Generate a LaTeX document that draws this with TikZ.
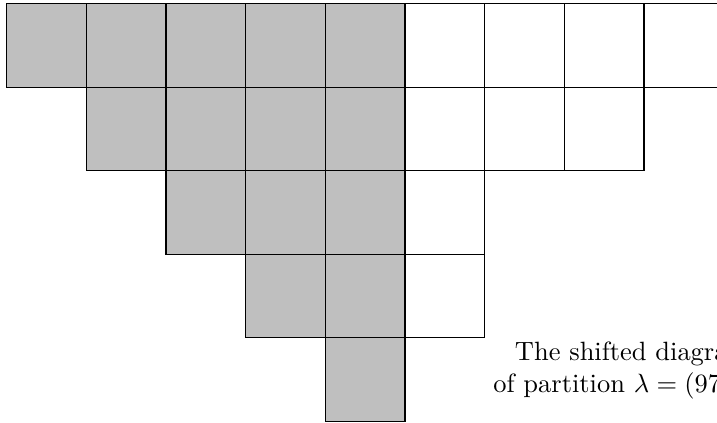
\documentclass[tikz,border=0pt]{standalone}
\usepackage{amsmath}
\definecolor{cellgray}{gray}{0.75}
\tikzset{
  box/.style={draw=black, line width=0.45pt},
  shaded/.style={box, fill=cellgray}
}
\begin{document}
\begin{tikzpicture}[x=1.059cm, y=-1.110cm]

% Frame: 717x422 px, grid corner at (6.5px, 3.7px)
\useasboundingbox (-0.082,-0.044) rectangle (8.915,5.010);
\clip (-0.082,-0.044) rectangle (8.915,5.010);

% Shaded part: row r holds columns r..4
\foreach \r in {0,...,4} {
  \foreach \c in {\r,...,4} {
    \filldraw[shaded] (\c,\r) rectangle ++(1,1);
  }
}

% White part: columns 5..w of row r
\foreach \r/\w in {0/8, 1/7, 2/5, 3/5} {
  \foreach \c in {5,...,\w} {
    \draw[box] (\c,\r) rectangle ++(1,1);
  }
}

% Caption
\node[align=center] (caption) at (7.852,4.39)
  {The shifted diagram\\of partition $\lambda = (97431)$};

\end{tikzpicture}
\end{document}
